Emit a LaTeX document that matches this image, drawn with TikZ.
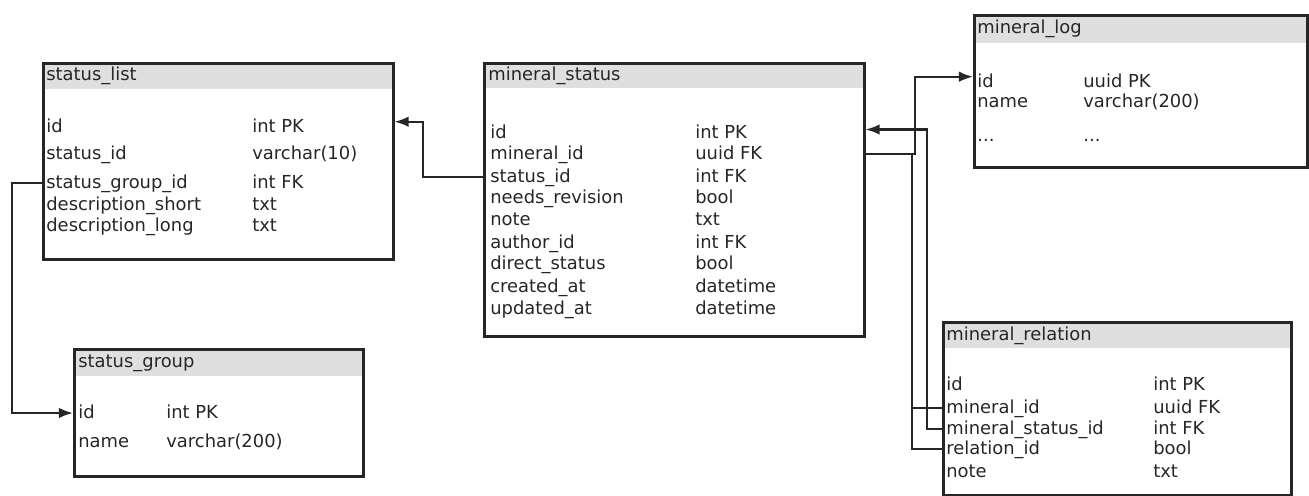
\documentclass[tikz,border=0pt]{standalone}
\usepackage{fontspec}
\setmainfont{DejaVu Sans}
\usetikzlibrary{arrows.meta}

\begin{document}
\begin{tikzpicture}[
    x=0.02cm, y=-0.02cm,
    font=\fontsize{10.2}{12}\selectfont,
    head/.style={rectangle, fill=gray!25, anchor=north west, inner sep=0pt},
    table/.style={rectangle, draw=black!85, line width=1.5pt, anchor=north west, inner sep=0pt},
    field/.style={anchor=west, inner sep=0pt, text height=1.6ex, text depth=0.45ex, text=black!85},
    arrow/.style={->, >={Latex[length=8pt, width=6pt]}, line width=1.2pt, draw=black!85},
    link/.style={line width=1.2pt, draw=black!85}
]
    \useasboundingbox (0,0) rectangle (1309,496);

    % Headers
    \node[head, minimum width=7cm, minimum height=0.54cm] (slhead) at (42,62) {};
    \node[head, minimum width=7.6cm, minimum height=0.52cm] (mshead) at (483,62) {};
    \node[head, minimum width=6.66cm, minimum height=0.58cm] (mlhead) at (973,14) {};
    \node[head, minimum width=6.96cm, minimum height=0.54cm] (mrhead) at (942,321) {};
    \node[head, minimum width=5.78cm, minimum height=0.56cm] (sghead) at (73,348) {};

    % Tables
    \node[table, minimum width=7cm, minimum height=3.92cm] (sl) at (42,62) {};
    \node[table, minimum width=7.6cm, minimum height=5.46cm] (ms) at (483,62) {};
    \node[table, minimum width=6.66cm, minimum height=3.04cm] (ml) at (973,14) {};
    \node[table, minimum width=6.96cm, minimum height=3.46cm] (mr) at (942,321) {};
    \node[table, minimum width=5.78cm, minimum height=2.54cm] (sg) at (73,348) {};

    % status_list
    \node[field] (sltitle) at (46,75) {status\_list};
    \node[field] (slid) at (46,127) {id};
    \node[field] (slidt) at (252,127) {int PK};
    \node[field] (slstatus) at (46,154) {status\_id};
    \node[field] (slstatust) at (252,154) {varchar(10)};
    \node[field] (slgroup) at (46,183) {status\_group\_id};
    \node[field] (slgroupt) at (252,183) {int FK};
    \node[field] (slshort) at (46,205) {description\_short};
    \node[field] (slshortt) at (252,205) {txt};
    \node[field] (sllong) at (46,226) {description\_long};
    \node[field] (sllongt) at (252,226) {txt};

    % mineral_status
    \node[field] (mstitle) at (488,75) {mineral\_status};
    \node[field] (msid) at (490,133) {id};
    \node[field] (msidt) at (695,133) {int PK};
    \node[field] (msmineral) at (490,154) {mineral\_id};
    \node[field] (msmineralt) at (695,154) {uuid FK};
    \node[field] (msstatus) at (490,177) {status\_id};
    \node[field] (msstatust) at (695,177) {int FK};
    \node[field] (msrev) at (490,198) {needs\_revision};
    \node[field] (msrevt) at (695,198) {bool};
    \node[field] (msnote) at (490,220) {note};
    \node[field] (msnotet) at (695,220) {txt};
    \node[field] (msauthor) at (490,243) {author\_id};
    \node[field] (msauthort) at (695,243) {int FK};
    \node[field] (msdirect) at (490,264) {direct\_status};
    \node[field] (msdirectt) at (695,264) {bool};
    \node[field] (mscreated) at (490,287) {created\_at};
    \node[field] (mscreatedt) at (695,287) {datetime};
    \node[field] (msupdated) at (490,309) {updated\_at};
    \node[field] (msupdatedt) at (695,309) {datetime};

    % mineral_log
    \node[field] (mltitle) at (977,28) {mineral\_log};
    \node[field] (mlid) at (977,82) {id};
    \node[field] (mlidt) at (1083,82) {uuid PK};
    \node[field] (mlname) at (977,102) {name};
    \node[field] (mlnamet) at (1083,102) {varchar(200)};
    \node[field] (mlmore) at (977,136) {...};
    \node[field] (mlmoret) at (1083,136) {...};

    % mineral_relation
    \node[field] (mrtitle) at (946,335) {mineral\_relation};
    \node[field] (mrid) at (946,385) {id};
    \node[field] (mridt) at (1153,385) {int PK};
    \node[field] (mrmineral) at (946,408) {mineral\_id};
    \node[field] (mrmineralt) at (1153,408) {uuid FK};
    \node[field] (mrstatus) at (946,429) {mineral\_status\_id};
    \node[field] (mrstatust) at (1153,429) {int FK};
    \node[field] (mrrelation) at (946,449) {relation\_id};
    \node[field] (mrrelationt) at (1153,449) {bool};
    \node[field] (mrnote) at (946,472) {note};
    \node[field] (mrnotet) at (1153,472) {txt};

    % status_group
    \node[field] (sgtitle) at (78,362) {status\_group};
    \node[field] (sgid) at (78,413) {id};
    \node[field] (sgidt) at (166,413) {int PK};
    \node[field] (sgname) at (78,442) {name};
    \node[field] (sgnamet) at (166,442) {varchar(200)};

    % Arrows
    \draw[arrow] (ms.west |- msstatus) -- ++(-60,0) |- ([yshift=3pt]sl.east |- slid);
    \draw[arrow] (sl.west |- slgroup) -- ++(-30,0) |- (sg.west |- sgid);
    \draw[arrow] (ms.east |- msmineral) -- ++(49,0) |- ([yshift=3pt]ml.west |- mlid);
    \draw[arrow] (mr.west |- mrstatus) -- ++(-15,0) |- ([yshift=2pt]ms.east |- msid);
    \draw[link] (mr.west |- mrrelation) -- ++(-30,0) coordinate (mljoin) -- (mljoin |- msmineral);
    \draw[link] (mr.west |- mrmineral) -- (mljoin |- mrmineral);
\end{tikzpicture}
\end{document}
